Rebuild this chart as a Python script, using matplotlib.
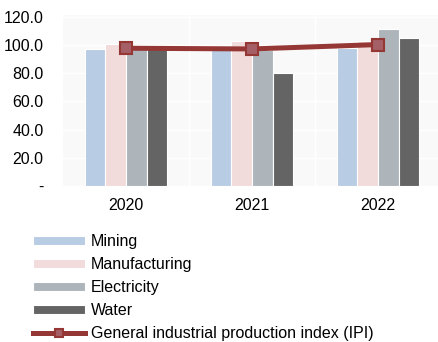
import numpy as np
import matplotlib
matplotlib.use("Agg")
import matplotlib.pyplot as plt
from matplotlib.ticker import FixedLocator

plt.rcParams['font.family'] = ['Liberation Sans', 'DejaVu Sans']

years = ["2020", "2021", "2022"]
mining = [97.0, 97.0, 97.8]
manufacturing = [100.8, 102.7, 103.2]
electricity = [97.0, 96.8, 111.5]
water = [97.5, 80.5, 105.3]
ipi = [97.8, 97.3, 100.4]

series = [
    ("Mining", mining, "#b8cce4"),
    ("Manufacturing", manufacturing, "#f2dcdb"),
    ("Electricity", electricity, "#adb5bb"),
    ("Water", water, "#646464"),
]

W, H = 438, 342
fs = 11.5
fig = plt.figure(figsize=(W / 100, H / 100), dpi=100)
ax = fig.add_axes([63 / W, 1 - 186 / H, (438 - 63) / W, (186 - 15) / H])
ax.set_facecolor("#f9f9f9")

x = np.arange(len(years))
bw = 0.164
handles = []
for i, (name, vals, col) in enumerate(series):
    b = ax.bar(x + (i - 1.5) * bw, vals, bw, color=col, edgecolor="white",
               linewidth=0.8, label=name, zorder=2)
    handles.append(b)

ln, = ax.plot(x, ipi, color="#953735", linewidth=3.6, marker="s",
              markersize=8.5, markerfacecolor="#a55f66", markeredgecolor="#953735",
              markeredgewidth=1.5, label="General industrial production index (IPI)",
              zorder=3)
handles.append(ln)

ax.set_xlim(-0.5, 2.476)
ax.set_ylim(0, 121.4)
ax.set_yticks(np.arange(0, 121, 20))
ax.set_yticklabels(["-"] + [f"{v:.1f}" for v in np.arange(20, 121, 20)])
ax.set_xticks(x)
ax.set_xticklabels(years)
ax.xaxis.set_minor_locator(FixedLocator([0.5, 1.5]))
ax.grid(True, axis="y", color="white", linewidth=1, zorder=0)
ax.grid(True, axis="x", which="minor", color="white", linewidth=1, zorder=0)
ax.set_axisbelow(True)
for s in ax.spines.values():
    s.set_visible(False)
ax.tick_params(axis="both", which="both", length=0, labelsize=fs, colors="black")
ax.tick_params(axis="y", pad=14)
ax.tick_params(axis="x", pad=9)

fig.legend(handles=handles, loc="upper left", bbox_to_anchor=(27 / W, 1 - 228 / H),
           frameon=False, fontsize=fs, handlelength=3.25, handleheight=0.5,
           labelspacing=0.5, handletextpad=0.35, borderaxespad=0, markerscale=0.75)

fig.savefig("out.png", dpi=100)
